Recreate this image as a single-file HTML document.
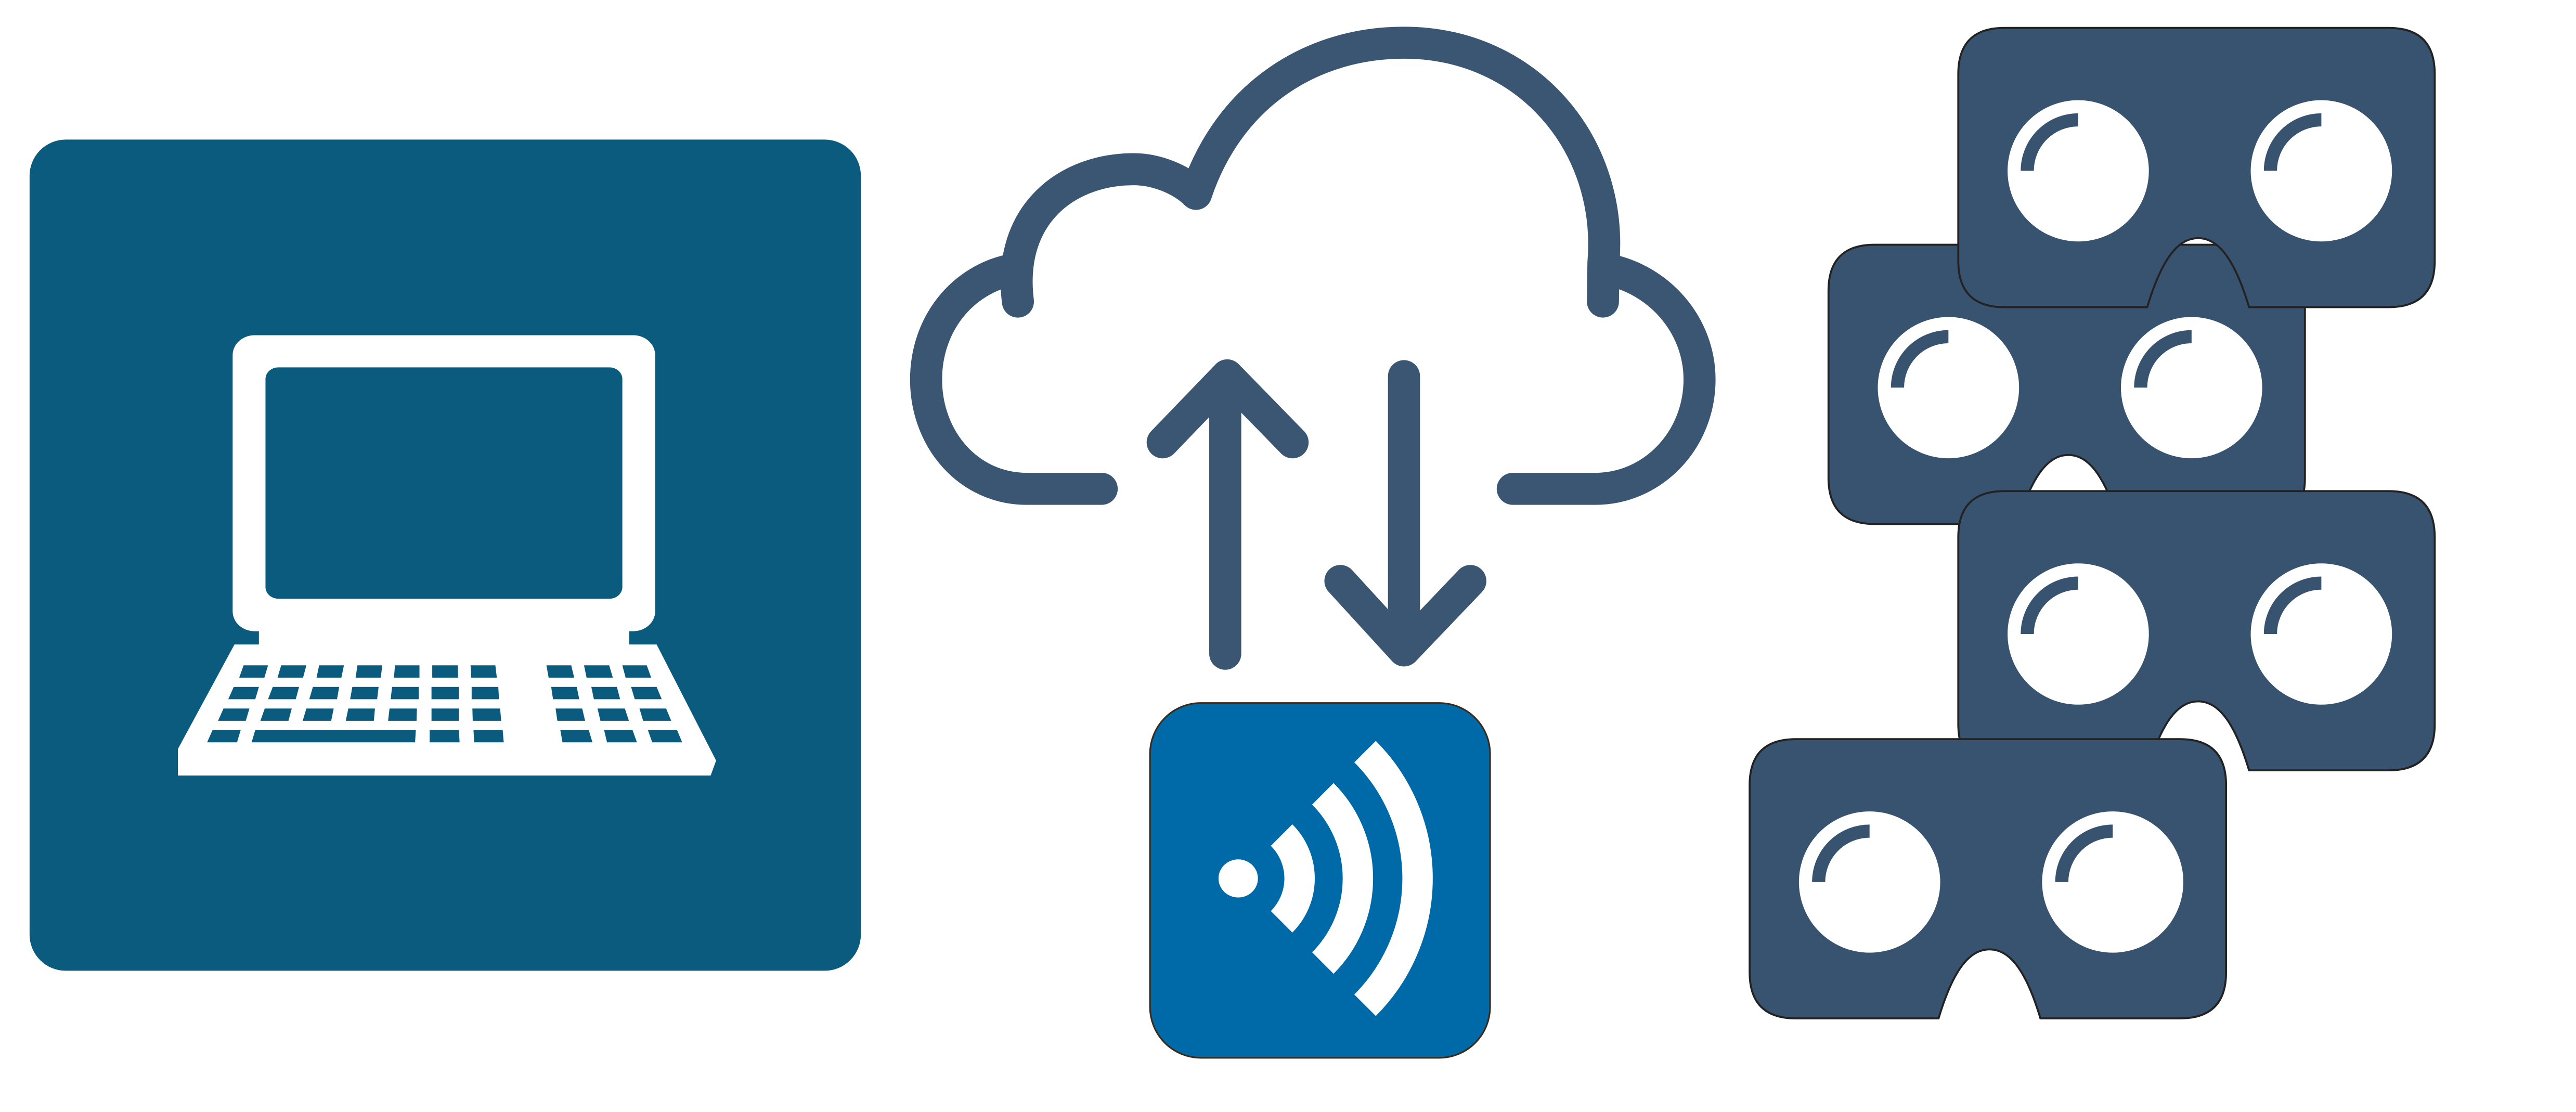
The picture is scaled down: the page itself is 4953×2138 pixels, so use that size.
<!DOCTYPE html>
<html><head><meta charset="utf-8"><style>html,body{margin:0;padding:0;background:#fff}svg{display:block}</style></head>
<body>
<svg width="4953" height="2138" viewBox="0 0 1568 677" preserveAspectRatio="none" xmlns="http://www.w3.org/2000/svg">
<defs>
<g id="hs">
<path d="M28,0 H262 Q290,0 290,28 V142 Q290,170 262,170 H177 C168,140 158,128 146,128 C134,128 124,140 115,170 H28 Q0,170 0,142 V28 Q0,0 28,0 Z" fill="#38536f" stroke="#222" stroke-width="1.2"/>
<circle cx="73" cy="87" r="43" fill="#fff"/>
<circle cx="221" cy="87" r="43" fill="#fff"/>
<path d="M42,87 A31,31 0 0 1 73,56" fill="none" stroke="#38536f" stroke-width="8"/>
<path d="M190,87 A31,31 0 0 1 221,56" fill="none" stroke="#38536f" stroke-width="8"/>
</g>
</defs>
<!-- laptop panel -->
<rect x="18" y="85" width="506" height="506" rx="22" fill="#0a5b7e"/>
<g transform="translate(94.97,174.2) scale(0.2221,0.2020)">
<rect x="210" y="148" width="1158" height="892" rx="60" fill="#fff"/>
<rect x="282" y="1020" width="1015" height="65" fill="#fff"/>
<rect x="300" y="245" width="978" height="697" rx="35" fill="#0a5b7e"/>
<polygon points="215,1080 1372,1080 1535,1430 1520,1475 60,1475 60,1395" fill="#fff"/>
<g fill="#0a5b7e">
<polygon points="240,1143 307,1143 297,1180 228,1180"/>
<polygon points="343,1143 412,1143 403,1180 333,1180"/>
<polygon points="447,1143 515,1143 508,1180 440,1180"/>
<polygon points="552,1143 620,1143 616,1180 547,1180"/>
<polygon points="655,1143 722,1143 722,1180 652,1180"/>
<polygon points="757,1143 827,1143 828,1180 757,1180"/>
<polygon points="862,1143 930,1143 934,1180 864,1180"/>
<polygon points="1070,1143 1138,1143 1146,1180 1076,1180"/>
<polygon points="1173,1143 1242,1143 1252,1180 1180,1180"/>
<polygon points="1278,1143 1345,1143 1357,1180 1287,1180"/>

<polygon points="213,1208 282,1208 272,1245 198,1245"/>
<polygon points="320,1208 392,1208 383,1245 307,1245"/>
<polygon points="430,1208 502,1208 496,1245 420,1245"/>
<polygon points="538,1208 610,1208 606,1245 532,1245"/>
<polygon points="647,1208 720,1208 720,1245 643,1245"/>
<polygon points="755,1208 830,1208 830,1245 755,1245"/>
<polygon points="865,1208 938,1208 940,1245 865,1245"/>
<polygon points="1083,1208 1153,1208 1160,1245 1088,1245"/>
<polygon points="1193,1208 1263,1208 1272,1245 1200,1245"/>
<polygon points="1302,1208 1372,1208 1386,1245 1312,1245"/>

<polygon points="185,1273 256,1273 246,1310 170,1310"/>
<polygon points="298,1273 372,1273 363,1310 286,1310"/>
<polygon points="412,1273 487,1273 480,1310 402,1310"/>
<polygon points="527,1273 600,1273 597,1310 520,1310"/>
<polygon points="640,1273 715,1273 714,1310 636,1310"/>
<polygon points="755,1273 830,1273 830,1310 755,1310"/>
<polygon points="867,1273 943,1273 946,1310 868,1310"/>
<polygon points="1095,1273 1168,1273 1176,1310 1100,1310"/>
<polygon points="1210,1273 1285,1273 1296,1310 1218,1310"/>
<polygon points="1325,1273 1398,1273 1412,1310 1335,1310"/>

<polygon points="155,1338 232,1338 222,1375 140,1375"/>
<polygon points="272,1338 712,1338 710,1375 262,1375"/>
<polygon points="750,1338 830,1338 832,1375 750,1375"/>
<polygon points="870,1338 950,1338 953,1375 872,1375"/>
<polygon points="1108,1338 1186,1338 1196,1375 1114,1375"/>
<polygon points="1228,1338 1306,1338 1318,1375 1236,1375"/>
<polygon points="1348,1338 1428,1338 1442,1375 1360,1375"/>
</g>
</g>

<!-- cloud -->
<g fill="none" stroke="#3a5673" stroke-width="19.5" stroke-linecap="round" stroke-linejoin="round">
<path d="M670.6,297.6 H625 C590,297.6 563.7,268 563.7,231 C563.7,198 585,170 617,164"/>
<path d="M619.6,183.6 C613,130 650,103 690,103 C705,103 720,110 728,118"/>
<path d="M728,118 C748,58 798,26 854.6,26 C930,26 982,88 976,160 L975.7,183.6"/>
<path d="M920.8,297.6 H971 C1006,297.6 1034.5,268 1034.5,231 C1034.5,198 1010,170 978,164"/>
<path d="M745.8,398 V232 M707.7,269.3 L747,228.5 L786.8,269.3"/>
<path d="M854.6,229 V394 M815.9,353.7 L854.6,396 L895,353.7"/>
</g>

<!-- wifi -->
<rect x="700" y="428" width="207" height="216" rx="31" fill="#006aa8" stroke="#3a2a1a" stroke-width="1"/>
<ellipse cx="753.7" cy="534.8" rx="12" ry="11.6" fill="#fff"/>
<g fill="none" stroke="#fff" stroke-width="18.5">
<path d="M780.1,508.4 A37.3,37.3 0 0 1 780.1,561.2"/>
<path d="M805.2,483.3 A72.8,72.8 0 0 1 805.2,586.3"/>
<path d="M830.9,457.6 A109.2,109.2 0 0 1 830.9,612"/>
</g>

<!-- headsets -->
<use href="#hs" transform="translate(1113,149)"/>
<use href="#hs" transform="translate(1192,17)"/>
<use href="#hs" transform="translate(1192,299)"/>
<use href="#hs" transform="translate(1065,450)"/>
</svg>
</body></html>
